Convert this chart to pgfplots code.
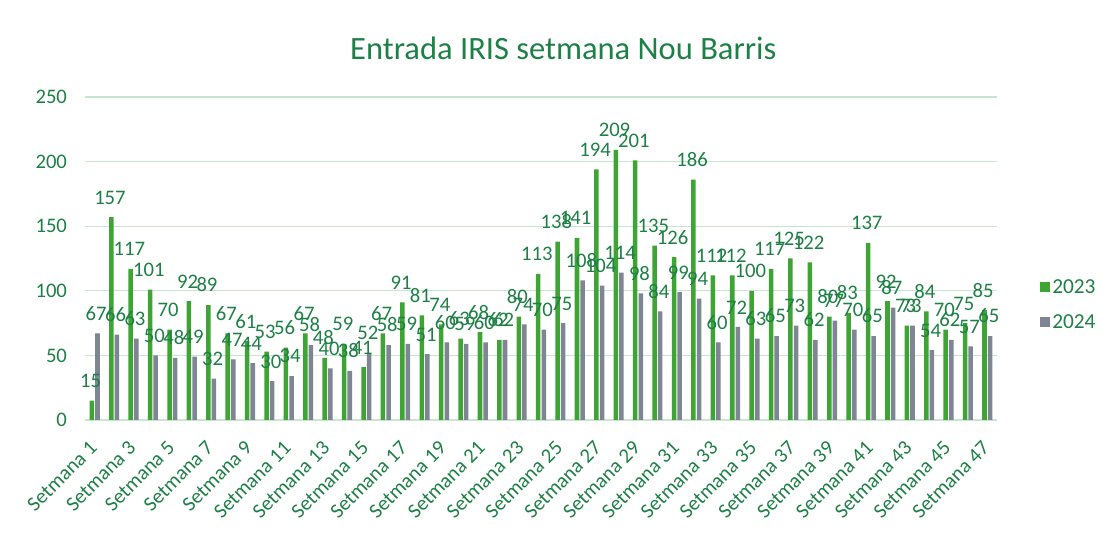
\documentclass[border=0pt]{standalone}
\usepackage{fontspec}
\setmainfont{Carlito}
\usepackage{pgfplots}
\usepackage{pgfplotstable}
\pgfplotsset{compat=1.18}
\definecolor{txtgreen}{RGB}{30,128,70}
\definecolor{bargreen}{RGB}{62,165,52}
\definecolor{bargray}{RGB}{125,134,146}
\definecolor{gridgreen}{RGB}{198,230,208}

\pgfplotstableread{
x g b
1 15 67
2 157 66
3 117 63
4 101 50
5 70 48
6 92 49
7 89 32
8 67 47
9 61 44
10 53 30
11 56 34
12 67 58
13 48 40
14 59 38
15 41 52
16 67 58
17 91 59
18 81 51
19 74 60
20 63 59
21 68 60
22 62 62
23 80 74
24 113 70
25 138 75
26 141 108
27 194 104
28 209 114
29 201 98
30 135 84
31 126 99
32 186 94
33 112 60
34 112 72
35 100 63
36 117 65
37 125 73
38 122 62
39 80 77
40 83 70
41 137 65
42 92 87
43 73 73
44 84 54
45 70 62
46 75 57
47 85 65
}\datatable

\begin{document}
\begin{tikzpicture}[x=1pt,y=1pt]
\path[use as bounding box] (0,0) rectangle (837,400.5);
\node[text=txtgreen, font=\fontsize{24.4}{28}\selectfont] at (422.5,364.5) {Entrada IRIS setmana Nou Barris};
\begin{axis}[
  at={(63.75pt,85.5pt)}, anchor=south west,
  scale only axis, width=684pt, height=242.25pt,
  ymin=0, ymax=250, xmin=0.5, xmax=47.5,
  ybar=0.8pt, bar width=3.4pt,
  ytick={0,50,...,250},
  xtick={1,3,...,47},
  xticklabels={Setmana 1,Setmana 3,Setmana 5,Setmana 7,Setmana 9,Setmana 11,Setmana 13,Setmana 15,Setmana 17,Setmana 19,Setmana 21,Setmana 23,Setmana 25,Setmana 27,Setmana 29,Setmana 31,Setmana 33,Setmana 35,Setmana 37,Setmana 39,Setmana 41,Setmana 43,Setmana 45,Setmana 47},
  xticklabel style={rotate=45, anchor=north east, font=\fontsize{15.5}{18}\selectfont, text=txtgreen, xshift=-10.25pt, yshift=-3.75pt},
  yticklabel style={font=\fontsize{15.5}{18}\selectfont, text=txtgreen, xshift=-10pt},
  /pgf/number format/assume math mode=true,
  axis line style={draw=none},
  major tick length=0pt,
  ymajorgrids, grid style={gridgreen, line width=0.9pt},
  nodes near coords,
  every node near coord/.append style={font=\fontsize{15.5}{18}\selectfont, text=txtgreen, inner sep=1.5pt, yshift=8pt, xshift=-1pt},
  legend style={at={(1.042,0.356)}, anchor=west, draw=none, fill=none, font=\fontsize{16}{18}\selectfont, text=txtgreen, row sep=10pt},
  legend cell align=left,
  legend image code/.code={\fill[#1] (0pt,-3.5pt) rectangle (7.5pt,4pt);},
]
\addplot[fill=bargreen, draw=none] table[x=x, y=g] {\datatable};
\addplot[fill=bargray, draw=none] table[x=x, y=b] {\datatable};
\legend{2023,2024}
\end{axis}
\end{tikzpicture}
\end{document}
